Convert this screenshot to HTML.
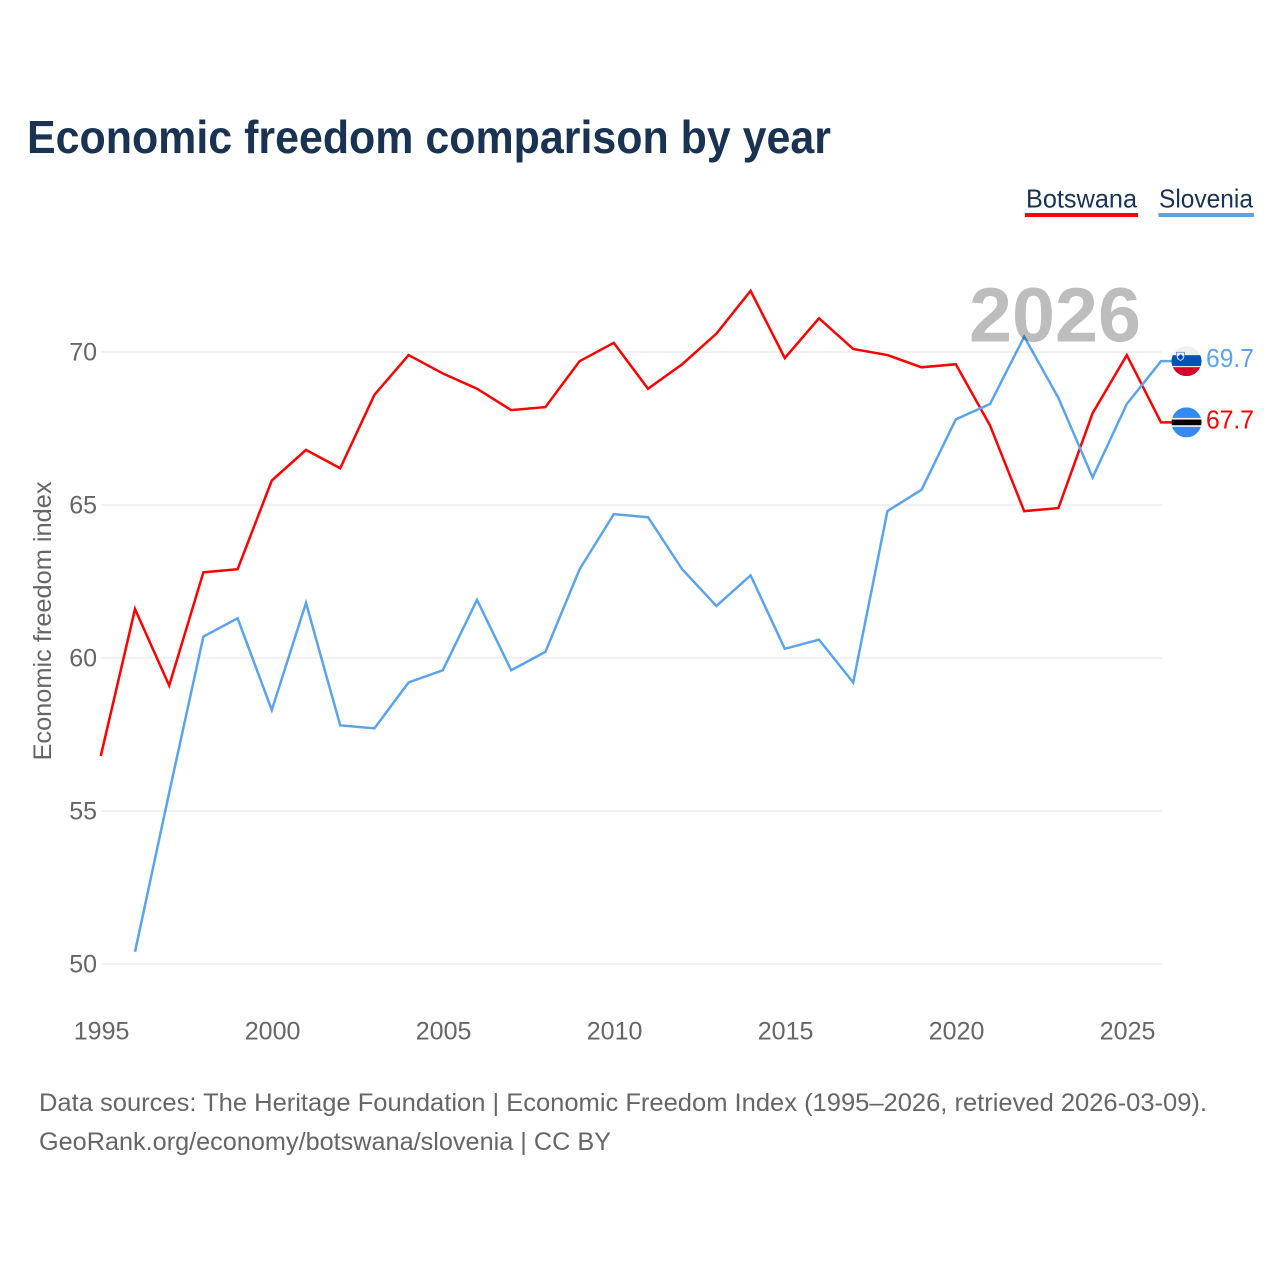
<!DOCTYPE html>
<html lang="en">
<head>
<meta charset="utf-8">
<title>Economic freedom comparison by year</title>
<style>
html,body{margin:0;padding:0;background:#fff;}
svg{display:block;font-family:"Liberation Sans",sans-serif;}
</style>
</head>
<body>
<svg id="chart" xmlns="http://www.w3.org/2000/svg" width="1280" height="1280" viewBox="0 0 1280 1280">
  <defs>
    <clipPath id="clip-si"><circle cx="0" cy="0" r="15"></circle></clipPath>
    <clipPath id="clip-bw"><circle cx="0" cy="0" r="15"></circle></clipPath>
  </defs>
  <rect x="0" y="0" width="1280" height="1280" fill="#ffffff"></rect>
  <text x="27" y="153" font-size="46" font-weight="700" fill="#1a3353" textLength="804" lengthAdjust="spacingAndGlyphs">Economic freedom comparison by year</text>

  <g>
    <g>
      <text x="1026" y="207.500" font-size="26" fill="#1a3353" textLength="111" lengthAdjust="spacingAndGlyphs">Botswana</text>
      <rect x="1025" y="213" width="113" height="4" fill="#ff0000"></rect>
    </g>
    <g>
      <text x="1159" y="207.500" font-size="26" fill="#1a3353" textLength="94" lengthAdjust="spacingAndGlyphs">Slovenia</text>
      <rect x="1158.500" y="213" width="95.500" height="4" fill="#5ba4ec"></rect>
    </g>
  </g>

  <g id="grid"></g>
  <text x="1141" y="341.500" text-anchor="end" font-size="77" font-weight="700" fill="#bdbdbd" textLength="172" lengthAdjust="spacingAndGlyphs">2026</text>
  <g id="yticks"></g>
  <g id="xticks"></g>
  <text transform="translate(51,621) rotate(-90)" text-anchor="middle" font-size="25" fill="#666666" textLength="279" lengthAdjust="spacingAndGlyphs">Economic freedom index</text>
  <g id="series" style="mix-blend-mode:multiply"></g>

  <g id="flag-si">
    <g clip-path="url(#clip-si)">
      <rect x="-15" y="-15" width="30" height="30" fill="#f0f0f0"></rect>
      <rect x="-15" y="-6" width="30" height="11" fill="#0052b4"></rect>
      <rect x="-15" y="5" width="30" height="1" fill="#f0f0f0"></rect>
      <rect x="-15" y="6" width="30" height="9" fill="#d80027"></rect>
      <path d="M-10 -9 h8 v4.500 q0 2.800 -4 4.500 q-4 -1.700 -4 -4.500 z" fill="#f0f0f0" stroke="#0052b4" stroke-width="0.500"></path>
      <path d="M-9 -4.500 l3 -2.500 l3 2.500 q-1 2.500 -3 3.500 q-2 -1 -3 -3.500 z" fill="#0052b4"></path>
    </g>
  </g>
  <g id="flag-bw">
    <g clip-path="url(#clip-bw)">
      <rect x="-15" y="-15" width="30" height="30" fill="#338af3"></rect>
      <rect x="-15" y="-4.500" width="30" height="9" fill="#f0f0f0"></rect>
      <rect x="-15" y="-2.800" width="30" height="5.600" fill="#000000"></rect>
    </g>
  </g>
  <text id="label-si" x="1254" text-anchor="end" font-size="26" fill="#5ba4ec" textLength="48" lengthAdjust="spacingAndGlyphs"></text>
  <text id="label-bw" x="1254" text-anchor="end" font-size="26" fill="#ff0000" textLength="48" lengthAdjust="spacingAndGlyphs"></text>

  <text x="39" y="1111" font-size="25" fill="#666666" textLength="1168" lengthAdjust="spacingAndGlyphs">Data sources: The Heritage Foundation | Economic Freedom Index (1995–2026, retrieved 2026-03-09).</text>
  <text x="39" y="1150" font-size="25" fill="#666666" textLength="572" lengthAdjust="spacingAndGlyphs">GeoRank.org/economy/botswana/slovenia | CC BY</text>
</svg>
<script>
const years = [1995,1996,1997,1998,1999,2000,2001,2002,2003,2004,2005,2006,2007,2008,2009,2010,2011,2012,2013,2014,2015,2016,2017,2018,2019,2020,2021,2022,2023,2024,2025,2026];
const botswanaValues = [56.8,61.6,59.1,62.8,62.9,65.8,66.8,66.2,68.6,69.9,69.3,68.8,68.1,68.2,69.7,70.3,68.8,69.6,70.6,72.0,69.8,71.1,70.1,69.9,69.5,69.6,67.6,64.8,64.9,68.0,69.9,67.7];
const sloveniaValues = [null,50.4,55.6,60.7,61.3,58.3,61.8,57.8,57.7,59.2,59.6,61.9,59.6,60.2,62.9,64.7,64.6,62.9,61.7,62.7,60.3,60.6,59.2,64.8,65.5,67.8,68.3,70.5,68.5,65.9,68.3,69.7];
const yTickValues = [50,55,60,65,70];
const xTickValues = [1995,2000,2005,2010,2015,2020,2025];

const NS = 'http://www.w3.org/2000/svg';
function xScale(year){ return 100.8 + (year - 1995) * 34.2; }
function yScale(value){ return 964 - (value - 50) * 30.6; }
const flagX = 1186.5;

const gridGroup = document.getElementById('grid');
const yTickGroup = document.getElementById('yticks');
const xTickGroup = document.getElementById('xticks');
const seriesGroup = document.getElementById('series');

yTickValues.forEach(function(v){
  const line = document.createElementNS(NS,'line');
  
  
  line.setAttribute('x1', 101);
  line.setAttribute('x2', 1162);
  line.setAttribute('y1', yScale(v));
  line.setAttribute('y2', yScale(v));
  line.setAttribute('stroke', '#e9e9e9');
  line.setAttribute('stroke-width', '1.300');
  gridGroup.appendChild(line);

  const label = document.createElementNS(NS,'text');
  
  
  label.setAttribute('x', 97);
  label.setAttribute('y', yScale(v) + 8.500);
  label.setAttribute('text-anchor', 'end');
  label.setAttribute('font-size', '25');
  label.setAttribute('fill', '#666666');
  label.textContent = v;
  yTickGroup.appendChild(label);
});

xTickValues.forEach(function(y){
  const label = document.createElementNS(NS,'text');
  
  
  label.setAttribute('x', xScale(y) + 0.800);
  label.setAttribute('y', 1039.500);
  label.setAttribute('text-anchor', 'middle');
  label.setAttribute('font-size', '25');
  label.setAttribute('fill', '#666666');
  label.textContent = y;
  xTickGroup.appendChild(label);
});

function linePoints(values){
  const pts = [];
  values.forEach(function(v,i){
    if (v !== null) pts.push(xScale(years[i]).toFixed(2) + ',' + yScale(v).toFixed(2));
  });
  const last = values[values.length - 1];
  pts.push(flagX + ',' + yScale(last).toFixed(2));
  return pts.join(' ');
}

const botswanaLine = document.createElementNS(NS,'polyline');


botswanaLine.setAttribute('points', linePoints(botswanaValues));
botswanaLine.setAttribute('fill', 'none');
botswanaLine.setAttribute('stroke', '#ff0000');
botswanaLine.setAttribute('stroke-width', '2.500');
seriesGroup.appendChild(botswanaLine);

const sloveniaLine = document.createElementNS(NS,'polyline');


sloveniaLine.setAttribute('points', linePoints(sloveniaValues));
sloveniaLine.setAttribute('fill', 'none');
sloveniaLine.setAttribute('stroke', '#5ba4ec');
sloveniaLine.setAttribute('stroke-width', '2.500');
seriesGroup.appendChild(sloveniaLine);

const lastBw = botswanaValues[botswanaValues.length - 1];
const lastSi = sloveniaValues[sloveniaValues.length - 1];
document.getElementById('flag-si').setAttribute('transform', 'translate(' + flagX + ',' + yScale(lastSi) + ')');
document.getElementById('flag-bw').setAttribute('transform', 'translate(' + flagX + ',' + yScale(lastBw) + ')');
const labelSi = document.getElementById('label-si');
labelSi.setAttribute('y', yScale(lastSi) + 6);
labelSi.textContent = lastSi.toFixed(1);
const labelBw = document.getElementById('label-bw');
labelBw.setAttribute('y', yScale(lastBw) + 6);
labelBw.textContent = lastBw.toFixed(1);
</script>
</body>
</html>
